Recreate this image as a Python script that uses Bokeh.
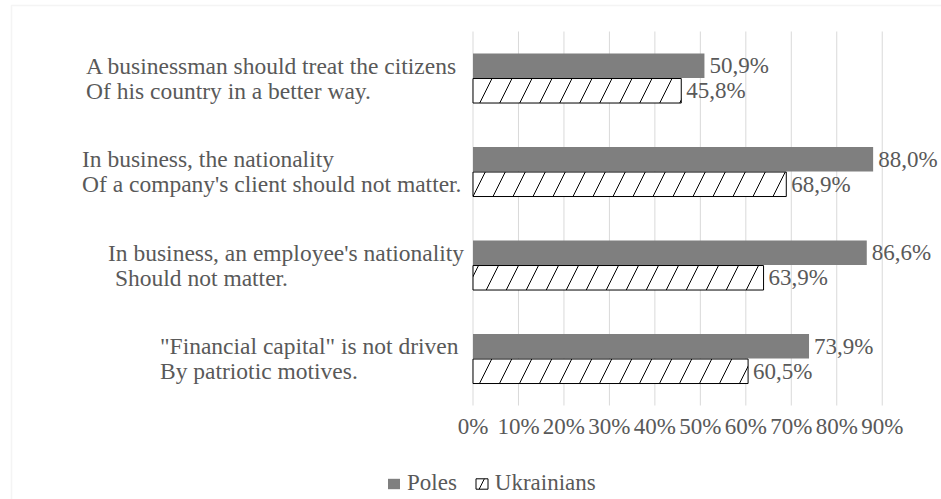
from bokeh.plotting import figure
from bokeh.models import (ColumnDataSource, Range1d, FixedTicker, NumeralTickFormatter,
                          LabelSet, Legend, LegendItem, BoxAnnotation)
from bokeh.embed import file_html
from bokeh.resources import INLINE

# ---- data ----
cat_line1 = ["A businessman should treat the citizens",
             "In business, the nationality",
             "In business, an employee's nationality",
             "\"Financial capital\" is not driven"]
cat_line2 = ["Of his country in a better way.",
             "Of a company's client should not matter.",
             "Should not matter.",
             "By patriotic motives."]
poles = [50.9, 88.0, 86.6, 73.9]
ukrainians = [45.8, 68.9, 63.9, 60.5]
series_names = ["Poles", "Ukrainians"]
tick_values = [0, 10, 20, 30, 40, 50, 60, 70, 80, 90]

# ---- styles ----
FONT = "Liberation Serif"
TXT = "#595959"
FS = "23px"
FS_CAT = "23.5px"
GRID = "#d9d9d9"
label_x_offsets_line1 = [-387, -391, -365, -313]
label_x_offsets_line2 = [-387, -391, -358, -313]
bar_shift = 0.134
bar_h = 0.262

W, H = 941, 499
X0_PX, XPX = 472.5, 454.7        # pixel of 0%, pixels per unit (100%)
YB_PX, YPX = 405.0, 93.5         # pixel of plot bottom, pixels per category

n = len(cat_line1)
centers = [n - 0.5 - i for i in range(n)]

p = figure(width=W, height=H, output_backend="svg", toolbar_location=None,
           x_range=Range1d(-X0_PX / XPX, (W - X0_PX) / XPX),
           y_range=Range1d(-(H - YB_PX) / YPX, n + (YB_PX - n * YPX) / YPX),
           min_border_left=0, min_border_right=0, min_border_top=0, min_border_bottom=0,
           y_axis_location=None)
p.outline_line_color = None
p.background_fill_color = "white"
p.border_fill_color = "white"
p.xgrid.grid_line_color = None
p.ygrid.grid_line_color = None

ticks = [t / 100 for t in tick_values]
# vertical gridlines within the category band
p.segment(x0=ticks, x1=ticks, y0=[0] * len(ticks), y1=[n] * len(ticks),
          line_color=GRID, line_width=1)

ax = p.xaxis[0]
ax.fixed_location = 0
ax.ticker = FixedTicker(ticks=ticks)
ax.formatter = NumeralTickFormatter(format="0%")
ax.axis_line_color = None
ax.major_tick_line_color = None
ax.minor_tick_line_color = None
ax.major_label_text_font = FONT
ax.major_label_text_font_size = FS
ax.major_label_text_color = TXT
ax.major_label_standoff = 2

src_p = ColumnDataSource(dict(y=[c + bar_shift for c in centers],
                              v=[x / 100 for x in poles],
                              lab=[f"{x:.1f}%".replace(".", ",") for x in poles]))
src_u = ColumnDataSource(dict(y=[c - bar_shift for c in centers],
                              v=[x / 100 for x in ukrainians],
                              lab=[f"{x:.1f}%".replace(".", ",") for x in ukrainians]))

rp = p.hbar(y="y", right="v", left=0, height=bar_h, source=src_p,
            fill_color="#7f7f7f", line_color=None)
ru = p.hbar(y="y", right="v", left=0, height=bar_h, source=src_u,
            fill_color="white", line_color="black", line_width=1,
            hatch_pattern="/", hatch_color="black", hatch_scale=40, hatch_weight=1)

for src in (src_p, src_u):
    p.add_layout(LabelSet(x="v", y="y", text="lab", source=src, x_offset=5,
                          text_baseline="middle", text_align="left",
                          text_font=FONT, text_font_size=FS, text_color=TXT))

src_c = ColumnDataSource(dict(
    x=[0] * (2 * n),
    y=[c + bar_shift for c in centers] + [c - bar_shift for c in centers],
    t=cat_line1 + cat_line2,
    xo=label_x_offsets_line1 + label_x_offsets_line2))
p.add_layout(LabelSet(x="x", y="y", text="t", x_offset="xo", source=src_c,
                      text_baseline="middle", text_align="left",
                      text_font=FONT, text_font_size=FS_CAT, text_color=TXT))

legend = Legend(items=[LegendItem(label=series_names[0], renderers=[rp]),
                       LegendItem(label=series_names[1], renderers=[ru])],
                orientation="horizontal", location=(386, 3),
                glyph_width=15, glyph_height=13, label_standoff=6, spacing=17,
                label_text_font=FONT, label_text_font_size=FS, label_text_color=TXT,
                border_line_color=None, background_fill_alpha=0, padding=0, margin=0)
p.add_layout(legend, "center")

# chart-area frame (left and top edges visible)
p.add_layout(BoxAnnotation(left=(11 - X0_PX) / XPX, right=10,
                           top=n + (YB_PX - n * YPX - 5) / YPX, bottom=-10,
                           fill_alpha=0, line_color=GRID, line_width=1.5))

open("out.html", "w").write(file_html(p, INLINE))
